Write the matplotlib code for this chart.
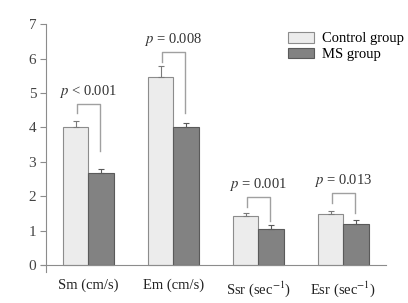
import numpy as np
import matplotlib
matplotlib.use("Agg")
import matplotlib.pyplot as plt
from matplotlib.patches import Patch

categories = ["Sm (cm/s)", "Em (cm/s)", "Ssr (sec$^{-1}$)", "Esr (sec$^{-1}$)"]
control = [4.0, 5.46, 1.43, 1.48]
control_err = [0.2, 0.32, 0.08, 0.1]
ms = [2.68, 4.0, 1.05, 1.2]
ms_err = [0.12, 0.12, 0.1, 0.1]

p_labels = ["< 0.001", "= 0.008", "= 0.001", "= 0.013"]
bracket_top = [4.68, 6.18, 1.98, 2.08]
bracket_left = [4.42, 5.9, 1.69, 1.79]
bracket_right = [3.32, 4.41, 1.29, 1.52]

plt.rcParams["font.family"] = ["Liberation Serif", "DejaVu Serif"]
plt.rcParams["mathtext.fontset"] = "stix"

fig = plt.figure(figsize=(4.08, 3.03), dpi=100)
ax = fig.add_axes([40.9 / 408, 1 - 271.9 / 303, 345 / 408, 247.7 / 303])

x = np.arange(len(categories))
w = 0.3
ax.bar(x - w / 2, control, w, color="#ececec", edgecolor="#8c8c8c", linewidth=0.8,
       yerr=[np.zeros(4), control_err], capsize=2.5,
       error_kw=dict(ecolor="#7a7a7a", elinewidth=0.8, capthick=0.8), label="Control group")
ax.bar(x + w / 2, ms, w, color="#828282", edgecolor="#5a5a5a", linewidth=0.8,
       yerr=[np.zeros(4), ms_err], capsize=2.5,
       error_kw=dict(ecolor="#5a5a5a", elinewidth=0.8, capthick=0.8), label="MS group")

# p-value brackets
for i in range(len(categories)):
    xl = x[i] - w / 2 + 0.01
    xr = x[i] + w / 2 - 0.01
    ax.plot([xl, xl, xr, xr], [bracket_left[i], bracket_top[i], bracket_top[i], bracket_right[i]],
            color="#a0a0a0", linewidth=1.0)
    ax.text(x[i], bracket_top[i] + 0.12, "$p$ " + p_labels[i], ha="center", va="bottom",
            fontsize=10.5, color="#333333")

ax.set_xlim(-0.56, 3.5)
ax.set_ylim(-0.2, 7)
ax.set_yticks(range(8))
ax.set_xticks(x)
ax.set_xticklabels(categories)
ax.spines["left"].set_position(("data", -0.5))
ax.spines["bottom"].set_position(("data", 0))
ax.spines["top"].set_visible(False)
ax.spines["right"].set_visible(False)
for s in ["left", "bottom"]:
    ax.spines[s].set_color("#8c8c8c")
    ax.spines[s].set_linewidth(0.8)
ax.tick_params(axis="y", length=4, width=0.8, color="#8c8c8c", labelsize=11, labelcolor="#444444", pad=3)
ax.tick_params(axis="x", length=0, labelsize=10.5, labelcolor="#222222", pad=10)

handles = [Patch(facecolor="#ececec", edgecolor="#8c8c8c", linewidth=0.8),
           Patch(facecolor="#828282", edgecolor="#5a5a5a", linewidth=0.8)]
fig.legend(handles, ["Control group", "MS group"], loc="upper left",
           bbox_to_anchor=(288 / 408, 1 - 32 / 303), frameon=False, fontsize=10.5,
           handlelength=1.8, handleheight=0.75, handletextpad=0.5, labelspacing=0.15,
           borderpad=0, borderaxespad=0)

fig.savefig("out.png", dpi=100)
